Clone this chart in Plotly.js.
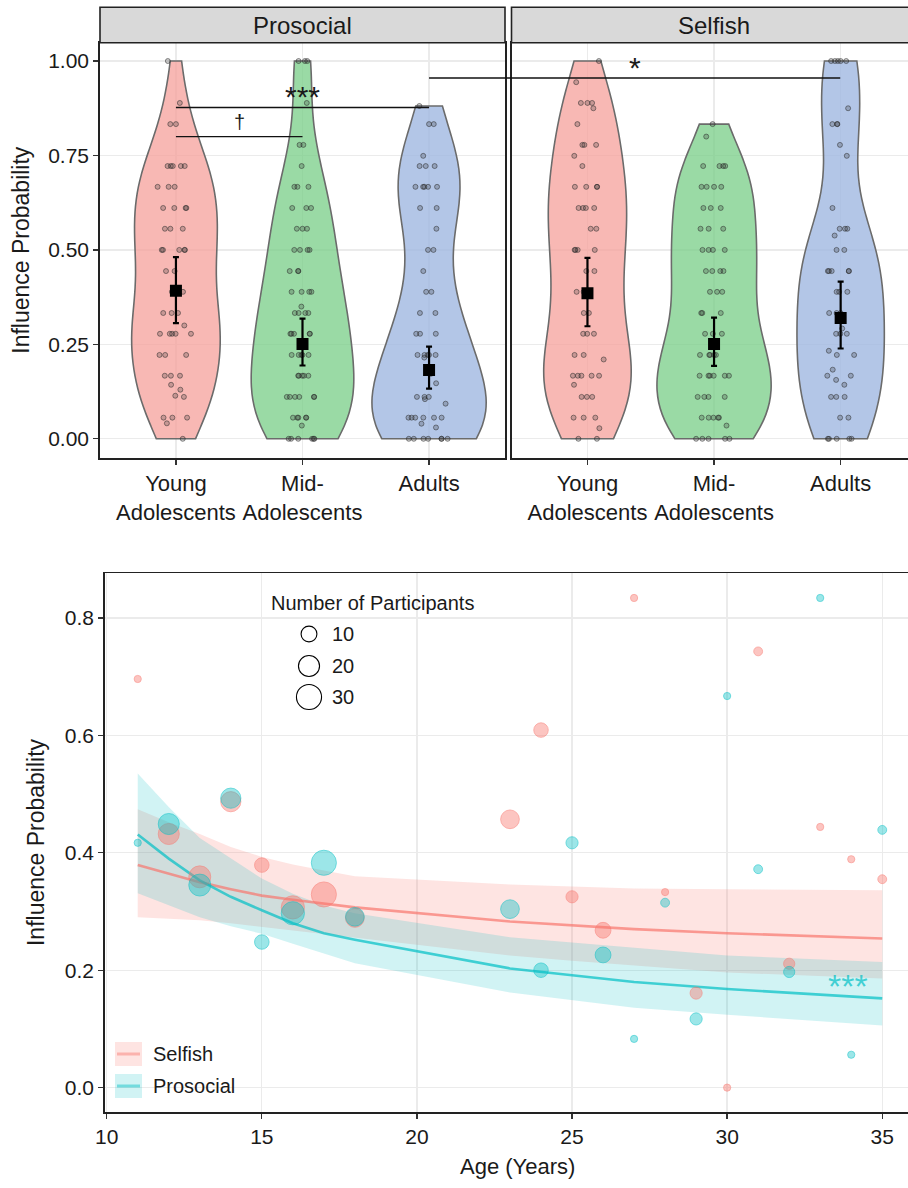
<!DOCTYPE html>
<html><head><meta charset="utf-8">
<script src="https://cdn.plot.ly/plotly-3.0.1.min.js"></script>
<style>html,body{margin:0;padding:0;background:#fff}#chart{width:908px;height:1188px}</style>
</head><body><div id="chart"></div>
<script>
// ---------------- DATA ----------------
const groupLabels = ['Young<br>Adolescents', 'Mid-<br>Adolescents', 'Adults'];
const panelNames = ['Prosocial', 'Selfish'];

// raw influence probabilities per participant (top violins)
const prosocialYoung = [1.0, 0.889, 0.833, 0.833, 0.722, 0.722, 0.722, 0.722, 0.722, 0.667, 0.667, 0.667,
  0.611, 0.611, 0.611, 0.611, 0.556, 0.556, 0.556, 0.5, 0.5, 0.5, 0.5, 0.5, 0.444, 0.444, 0.389, 0.389, 0.389,
  0.333, 0.333, 0.333, 0.3, 0.278, 0.278, 0.278, 0.278, 0.278, 0.222, 0.222, 0.222, 0.167, 0.167, 0.167,
  0.143, 0.13, 0.114, 0.111, 0.056, 0.056, 0.056, 0.041, 0.0];
const prosocialMid = [1.0, 1.0, 1.0, 0.889, 0.778, 0.778, 0.722, 0.667, 0.667, 0.667, 0.611, 0.611, 0.611,
  0.556, 0.556, 0.556, 0.5, 0.5, 0.5, 0.5, 0.444, 0.444, 0.444, 0.389, 0.389, 0.389, 0.389, 0.35,
  0.333, 0.333, 0.333, 0.333, 0.278, 0.278, 0.278, 0.278, 0.278, 0.222, 0.222, 0.222, 0.222, 0.222,
  0.167, 0.167, 0.167, 0.167, 0.167, 0.111, 0.111, 0.111, 0.111, 0.111, 0.111, 0.056, 0.056, 0.056, 0.056, 0.056,
  0.035, 0.0, 0.0, 0.0, 0.0, 0.0, 0.0];
const prosocialAdults = [0.881, 0.833, 0.833, 0.749, 0.722, 0.722, 0.722, 0.667, 0.667, 0.667, 0.667, 0.667,
  0.611, 0.611, 0.556, 0.5, 0.5, 0.444, 0.389, 0.389, 0.333, 0.333, 0.278, 0.278, 0.278,
  0.222, 0.222, 0.222, 0.222, 0.222, 0.215, 0.172, 0.147, 0.111, 0.111, 0.111, 0.105, 0.093,
  0.056, 0.056, 0.056, 0.056, 0.056, 0.056, 0.04, 0.03, 0.0, 0.0, 0.0, 0.0, 0.0, 0.0, 0.0];
const selfishYoung = [1.0, 0.944, 0.889, 0.889, 0.889, 0.875, 0.833, 0.778, 0.778, 0.778, 0.749, 0.722,
  0.667, 0.667, 0.667, 0.667, 0.611, 0.611, 0.611, 0.611, 0.556, 0.556, 0.5, 0.5, 0.5, 0.5, 0.444, 0.444,
  0.389, 0.389, 0.389, 0.333, 0.333, 0.278, 0.278, 0.278, 0.222, 0.222, 0.21, 0.167, 0.167, 0.167, 0.167, 0.167,
  0.143, 0.111, 0.111, 0.111, 0.056, 0.056, 0.056, 0.028, 0.0, 0.0];
const selfishMid = [0.833, 0.8, 0.722, 0.722, 0.722, 0.722, 0.667, 0.667, 0.667, 0.667, 0.611, 0.611, 0.611,
  0.556, 0.556, 0.556, 0.5, 0.5, 0.5, 0.5, 0.444, 0.444, 0.444, 0.444, 0.389, 0.389, 0.389, 0.333, 0.333, 0.333,
  0.278, 0.278, 0.278, 0.222, 0.222, 0.222, 0.222, 0.222, 0.167, 0.167, 0.167, 0.167, 0.167, 0.167,
  0.111, 0.111, 0.111, 0.111, 0.056, 0.056, 0.056, 0.056, 0.056, 0.035, 0.0, 0.0, 0.0, 0.0, 0.0];
const selfishAdults = [1.0, 1.0, 1.0, 1.0, 1.0, 0.875, 0.833, 0.833, 0.833, 0.778, 0.749, 0.611,
  0.556, 0.556, 0.556, 0.538, 0.5, 0.5, 0.444, 0.444, 0.444, 0.444, 0.444, 0.389, 0.389, 0.389,
  0.333, 0.333, 0.333, 0.292, 0.278, 0.278, 0.278, 0.233, 0.222, 0.222, 0.183, 0.167, 0.167, 0.156, 0.143,
  0.111, 0.111, 0.111, 0.056, 0.056, 0.0, 0.0, 0.0, 0.0, 0.0];

// group means with error bars (top)
const prosocialMean  = [0.392, 0.251, 0.182];
const prosocialUpper = [0.481, 0.318, 0.244];
const prosocialLower = [0.306, 0.194, 0.133];
const selfishMean    = [0.385, 0.251, 0.320];
const selfishUpper   = [0.479, 0.321, 0.416];
const selfishLower   = [0.298, 0.193, 0.239];

// significance markers (top)
const sigLabels = ['\u2020', '***', '*'];
const sigLevels = [0.800, 0.877, 0.955];

// bottom: per-age data
const ages = [11, 12, 13, 14, 15, 16, 17, 18, 23, 24, 25, 26, 27, 28, 29, 30, 31, 32, 33, 34, 35];
const selfishProb   = [0.696, 0.432, 0.359, 0.487, 0.379, 0.307, 0.329, 0.289, 0.457, 0.609, 0.325, 0.268, 0.834, 0.333, 0.161, 0.0, 0.743, 0.211, 0.444, 0.389, 0.355];
const selfishN      = [1, 20, 22, 18, 8, 25, 30, 15, 15, 8, 5, 10, 1, 1, 5, 1, 2, 4, 1, 1, 2];
const prosocialProb = [0.417, 0.449, 0.345, 0.493, 0.248, 0.297, 0.383, 0.291, 0.304, 0.200, 0.417, 0.226, 0.083, 0.315, 0.117, 0.667, 0.372, 0.197, 0.834, 0.056, 0.439];
const prosocialN    = [1, 20, 22, 18, 8, 25, 30, 15, 15, 8, 5, 10, 1, 2, 5, 1, 2, 4, 1, 1, 2];

// bottom: fitted curves with confidence bands
const fitAges = [11, 12, 13, 14, 15, 16, 17, 18, 23, 25, 27, 30, 35];
const selfishFit   = [0.379, 0.364, 0.350, 0.338, 0.327, 0.320, 0.314, 0.307, 0.283, 0.276, 0.270, 0.263, 0.254];
const selfishHi    = [0.474, 0.452, 0.432, 0.410, 0.393, 0.380, 0.370, 0.360, 0.346, 0.343, 0.339, 0.338, 0.336];
const selfishLo    = [0.290, 0.288, 0.285, 0.280, 0.274, 0.268, 0.262, 0.255, 0.225, 0.216, 0.208, 0.196, 0.186];
const prosocialFit = [0.431, 0.390, 0.353, 0.325, 0.302, 0.280, 0.263, 0.252, 0.203, 0.191, 0.180, 0.168, 0.152];
const prosocialHi  = [0.535, 0.478, 0.425, 0.390, 0.356, 0.330, 0.310, 0.297, 0.256, 0.247, 0.238, 0.225, 0.214];
const prosocialLo  = [0.331, 0.310, 0.290, 0.275, 0.262, 0.245, 0.228, 0.212, 0.162, 0.149, 0.136, 0.124, 0.106];

const sizeLegendN = [10, 20, 30];
const seriesNames = ['Selfish', 'Prosocial'];

// ---------------- STYLE / LAYOUT ----------------
const W = 908, H = 1188;
const fx = p => p / W;
const fy = p => 1 - p / H;
const FONT = '"Liberation Sans", Arial, sans-serif';
const TXT = '#1a1a1a';
const violinFill = ['rgba(245,160,155,0.75)', 'rgba(120,205,135,0.75)', 'rgba(160,184,225,0.8)'];
const violinWidthPro = [0.70, 0.81, 0.90];
const violinWidthSelf = [0.69, 0.90, 0.69];
const sizeOf = n => 3.2 + 4.0 * Math.sqrt(n);

function quantile(sorted, p) {
  const h = (sorted.length - 1) * p, lo = Math.floor(h), hi = Math.ceil(h);
  return sorted[lo] + (sorted[hi] - sorted[lo]) * (h - lo);
}
function nrd0(v) {
  const n = v.length, s = [...v].sort((a, b) => a - b);
  const m = v.reduce((a, b) => a + b, 0) / n;
  const sd = Math.sqrt(v.reduce((a, b) => a + (b - m) * (b - m), 0) / (n - 1));
  const iqr = quantile(s, 0.75) - quantile(s, 0.25);
  return 0.9 * Math.min(sd, iqr / 1.34) * Math.pow(n, -0.2);
}

const traces = [];
const panelData = [
  {xa: 'x', ya: 'y', groups: [prosocialYoung, prosocialMid, prosocialAdults], widths: violinWidthPro,
   mean: prosocialMean, up: prosocialUpper, lo: prosocialLower},
  {xa: 'x2', ya: 'y2', groups: [selfishYoung, selfishMid, selfishAdults], widths: violinWidthSelf,
   mean: selfishMean, up: selfishUpper, lo: selfishLower}
];
panelData.forEach(p => {
  p.groups.forEach((vals, i) => {
    traces.push({
      type: 'violin', x0: i, y: vals, xaxis: p.xa, yaxis: p.ya,
      width: p.widths[i], scalemode: 'width', spanmode: 'hard', bandwidth: nrd0(vals),
      fillcolor: violinFill[i], line: {color: '#6b6b6b', width: 1.6},
      points: 'all', pointpos: 0, jitter: 0.42,
      marker: {size: 5, color: 'rgba(50,50,50,0.25)', line: {width: 1, color: 'rgba(40,40,40,0.5)'}},
      box: {visible: false}, meanline: {visible: false}, showlegend: false, hoverinfo: 'y'
    });
  });
  traces.push({
    type: 'scatter', mode: 'markers', x: [0, 1, 2], y: p.mean, xaxis: p.xa, yaxis: p.ya,
    marker: {symbol: 'square', size: 12, color: '#000'},
    error_y: {type: 'data', symmetric: false,
      array: p.mean.map((m, i) => p.up[i] - m), arrayminus: p.mean.map((m, i) => m - p.lo[i]),
      color: '#000', thickness: 2.2, width: 3},
    showlegend: false
  });
});

// bottom bands
[[selfishLo, selfishHi, 'rgba(248,118,109,0.2)'], [prosocialLo, prosocialHi, 'rgba(0,191,196,0.18)']].forEach(b => {
  traces.push({type: 'scatter', mode: 'lines', x: fitAges, y: b[0], xaxis: 'x3', yaxis: 'y3',
    line: {width: 0}, showlegend: false, hoverinfo: 'skip'});
  traces.push({type: 'scatter', mode: 'lines', x: fitAges, y: b[1], xaxis: 'x3', yaxis: 'y3',
    line: {width: 0}, fill: 'tonexty', fillcolor: b[2], showlegend: false, hoverinfo: 'skip'});
});
traces.push({type: 'scatter', mode: 'lines', x: fitAges, y: selfishFit, xaxis: 'x3', yaxis: 'y3',
  line: {color: 'rgba(248,118,109,0.7)', width: 2.6}, showlegend: false});
traces.push({type: 'scatter', mode: 'lines', x: fitAges, y: prosocialFit, xaxis: 'x3', yaxis: 'y3',
  line: {color: 'rgba(0,191,196,0.7)', width: 2.6}, showlegend: false});
traces.push({type: 'scatter', mode: 'markers', x: ages, y: selfishProb, xaxis: 'x3', yaxis: 'y3',
  marker: {size: selfishN.map(sizeOf), color: 'rgba(248,118,109,0.6)', line: {width: 1, color: 'rgba(248,118,109,0.75)'}},
  showlegend: false});
traces.push({type: 'scatter', mode: 'markers', x: ages, y: prosocialProb, xaxis: 'x3', yaxis: 'y3',
  marker: {size: prosocialN.map(sizeOf), color: 'rgba(0,191,196,0.55)', line: {width: 1, color: 'rgba(0,191,196,0.75)'}},
  showlegend: false});

// axis geometry
const topY = [fy(457.7), fy(42.7)];
const axL = {d0: fx(100), d1: fx(505), r0: -0.6, r1: 2.6};
const axR = {d0: fx(511.5), d1: fx(907.5), r0: -0.6, r1: 2.532};
const axYT = {d0: topY[0], d1: topY[1], r0: -0.05, r1: 1.0485};
const toP = (ax, v) => ax.d0 + (v - ax.r0) / (ax.r1 - ax.r0) * (ax.d1 - ax.d0);

const tickFont = {family: FONT, size: 21, color: TXT};
const gridC = '#ebebeb';
const baseAx = {showgrid: true, gridcolor: gridC, gridwidth: 1.3, zeroline: false, showline: true,
  linecolor: '#222', linewidth: 1.8, ticks: 'outside', ticklen: 5, tickwidth: 1.3, tickcolor: '#333',
  tickfont: tickFont, fixedrange: true};
const catTickFont = {family: FONT, size: 22, color: TXT};

const layout = {
  width: W, height: H, margin: {l: 0, r: 0, t: 0, b: 0}, paper_bgcolor: '#fff', plot_bgcolor: '#fff',
  showlegend: false, hovermode: false, violinmode: 'overlay', font: {family: FONT, color: TXT},
  xaxis: Object.assign({}, baseAx, {domain: [axL.d0, axL.d1], range: [axL.r0, axL.r1], anchor: 'y',
    tickvals: [0, 1, 2], ticktext: groupLabels, tickangle: 0, mirror: true, tickfont: catTickFont}),
  yaxis: Object.assign({}, baseAx, {domain: topY, range: [axYT.r0, axYT.r1], anchor: 'x',
    tickvals: [0, 0.25, 0.5, 0.75, 1], tickformat: '.2f', mirror: true,
    title: {text: 'Influence Probability', font: {family: FONT, size: 23, color: TXT}, standoff: 12}}),
  xaxis2: Object.assign({}, baseAx, {domain: [axR.d0, 1], range: [axR.r0, axR.r1], anchor: 'y2',
    tickvals: [0, 1, 2], ticktext: groupLabels, tickangle: 0, mirror: true, tickfont: catTickFont}),
  yaxis2: Object.assign({}, baseAx, {domain: topY, range: [axYT.r0, axYT.r1], anchor: 'x2',
    tickvals: [0, 0.25, 0.5, 0.75, 1], showticklabels: false, ticks: '', mirror: false}),
  xaxis3: Object.assign({}, baseAx, {domain: [fx(105), 1], range: [9.945, 35.83], anchor: 'y3',
    tickvals: [10, 15, 20, 25, 30, 35], tickangle: 0, mirror: true}),
  yaxis3: Object.assign({}, baseAx, {domain: [fy(1111.7), fy(573.3)], range: [-0.041, 0.876], anchor: 'x3',
    tickvals: [0, 0.2, 0.4, 0.6, 0.8], tickformat: '.1f', mirror: false,
    title: {text: 'Influence Probability', font: {family: FONT, size: 23, color: TXT}, standoff: 14}}),
  shapes: [], annotations: []
};

// x title of the bottom panel (centred like the original, wider panel)
layout.annotations.push({xref: 'paper', yref: 'paper', x: fx(517), y: fy(1166), text: 'Age (Years)',
  showarrow: false, xanchor: 'center', yanchor: 'middle', font: {family: FONT, size: 22, color: TXT}});

// strips
[[fx(100), fx(505), panelNames[0], toP(axL, 1)], [fx(511.5), fx(915), panelNames[1], toP(axR, 1)]].forEach(s => {
  layout.shapes.push({type: 'rect', xref: 'paper', yref: 'paper', x0: s[0], x1: s[1], y0: fy(42.7), y1: fy(7.3),
    fillcolor: '#d9d9d9', line: {color: '#222', width: 1.6}, layer: 'above'});
  layout.annotations.push({xref: 'paper', yref: 'paper', x: s[3], y: fy(25),
    text: s[2], showarrow: false, xanchor: 'center', yanchor: 'middle', font: {family: FONT, size: 24, color: TXT}});
});

// significance lines
const sigLines = [
  [toP(axL, 0), toP(axL, 1)], [toP(axL, 0), toP(axL, 2)], [toP(axL, 2), toP(axR, 2)]
];
const sigSize = [20, 30, 30];
const sigShift = [2, -8, -8];
sigLines.forEach((l, i) => {
  const yy = toP(axYT, sigLevels[i]);
  layout.shapes.push({type: 'line', xref: 'paper', yref: 'paper', x0: l[0], x1: l[1], y0: yy, y1: yy,
    line: {color: '#111', width: 1.3}});
  layout.annotations.push({xref: 'paper', yref: 'paper', x: (l[0] + l[1]) / 2, y: yy, yshift: sigShift[i],
    text: sigLabels[i], showarrow: false, xanchor: 'center', yanchor: 'bottom',
    font: {family: FONT, size: sigSize[i], color: TXT}});
});

// size legend
layout.annotations.push({xref: 'paper', yref: 'paper', x: fx(269), y: fy(603), text: 'Number of Participants',
  showarrow: false, xanchor: 'left', yanchor: 'middle', font: {family: FONT, size: 20, color: TXT}});
const sizeRows = [634, 666, 697];
sizeLegendN.forEach((n, i) => {
  const r = sizeOf(n) / 2;
  layout.shapes.push({type: 'circle', xref: 'paper', yref: 'paper', xsizemode: 'pixel', ysizemode: 'pixel',
    xanchor: fx(309), yanchor: fy(sizeRows[i]), x0: -r, x1: r, y0: -r, y1: r,
    fillcolor: '#fff', line: {color: '#000', width: 1.1}});
  layout.annotations.push({xref: 'paper', yref: 'paper', x: fx(330), y: fy(sizeRows[i]), text: String(n),
    showarrow: false, xanchor: 'left', yanchor: 'middle', font: {family: FONT, size: 20, color: TXT}});
});

// colour legend
const legRows = [1054, 1086];
const legFill = ['rgba(248,118,109,0.2)', 'rgba(0,191,196,0.18)'];
const legLine = ['rgba(248,118,109,0.45)', 'rgba(0,191,196,0.45)'];
seriesNames.forEach((nm, i) => {
  const c = legRows[i];
  layout.shapes.push({type: 'rect', xref: 'paper', yref: 'paper', x0: fx(115), x1: fx(142),
    y0: fy(c + 12), y1: fy(c - 12), fillcolor: legFill[i], line: {width: 0}});
  layout.shapes.push({type: 'line', xref: 'paper', yref: 'paper', x0: fx(117), x1: fx(140),
    y0: fy(c), y1: fy(c), line: {color: legLine[i], width: 3}});
  layout.annotations.push({xref: 'paper', yref: 'paper', x: fx(151), y: fy(c), text: nm, showarrow: false,
    xanchor: 'left', yanchor: 'middle', font: {family: FONT, size: 20, color: TXT}});
});

// bottom significance
layout.annotations.push({xref: 'x3', yref: 'y3', x: 33.9, y: 0.178, yshift: -3, text: '***', showarrow: false,
  xanchor: 'center', yanchor: 'middle', font: {family: FONT, size: 34, color: 'rgba(0,191,196,0.7)'}});

Plotly.newPlot('chart', traces, layout, {staticPlot: true, displayModeBar: false});
</script>
</body></html>
